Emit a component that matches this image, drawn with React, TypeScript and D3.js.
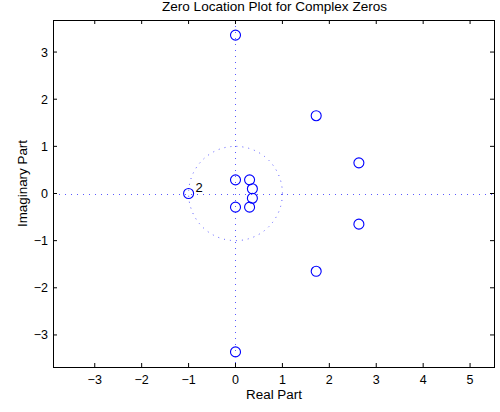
import React from "react";
import * as d3 from "d3";

const zerosRe = [0, 0, 1.72, 1.72, 2.63, 2.63, 0, 0, 0.3, 0.3, 0.36, 0.36, -1];
const zerosIm = [3.36, -3.36, 1.65, -1.65, 0.65, -0.65, 0.29, -0.29, 0.29, -0.29, 0.1, -0.1, 0];
const multLabels = [{ re: -1, im: 0, text: "2" }];
const xTicks = [-3, -2, -1, 0, 1, 2, 3, 4, 5];
const yTicks = [-3, -2, -1, 0, 1, 2, 3];
const title = "Zero Location Plot for Complex Zeros";
const xLabel = "Real Part";
const yLabel = "Imaginary Part";

const W = 500, H = 412;
const L = 53, R = 494, T = 20, B = 367;
const FONT = "Liberation Sans, Arial, Helvetica, sans-serif";

export default function App() {
  const x = d3.scaleLinear().domain([-3.89, 5.51]).range([L, R]);
  const y = d3.scaleLinear().domain([-3.68, 3.68]).range([B, T]);
  const circlePts = d3.range(0, 361, 2).map((a) => [Math.cos((a * Math.PI) / 180), Math.sin((a * Math.PI) / 180)]);
  const circlePath = d3.line<number[]>().x((d) => x(d[0])).y((d) => y(d[1]))(circlePts) || "";
  const tl = 4;
  const dot = { stroke: "#5a5aff", strokeWidth: 1, strokeDasharray: "1 5" } as const;
  const y0 = Math.round(y(0)) + 0.5;
  const x0 = Math.round(x(0)) + 0.5;
  const fmt = (t: number) => (t < 0 ? "\u2212" + Math.abs(t) : String(t));
  return (
    <svg width={W} height={H} style={{ position: "absolute", left: 0, top: 0, background: "#fff" }} fontFamily={FONT}>
      <rect x={0} y={0} width={W} height={H} fill="#fff" />
      <path d={circlePath} fill="none" {...dot} />
      <line x1={L} x2={R} y1={y0} y2={y0} {...dot} />
      <line x1={x0} x2={x0} y1={T} y2={B} {...dot} />
      {zerosRe.map((re, i) => (
        <circle key={i} cx={x(re)} cy={y(zerosIm[i])} r={5} fill="none" stroke="#0000ff" strokeWidth={1.1} />
      ))}
      {multLabels.map((m, i) => (
        <text key={i} x={x(m.re) + 7} y={y(m.im) - 1.5} fontSize={13} fill="#000">{m.text}</text>
      ))}
      <rect x={L + 0.5} y={T + 0.5} width={R - L} height={B - T} fill="none" stroke="#000" strokeWidth={1} />
      {xTicks.map((t) => (
        <g key={"x" + t}>
          <line x1={x(t)} x2={x(t)} y1={B} y2={B - tl} stroke="#000" />
          <line x1={x(t)} x2={x(t)} y1={T} y2={T + tl} stroke="#000" />
          <text x={x(t)} y={B + 17} fontSize={12.5} textAnchor="middle" fill="#000">{fmt(t)}</text>
        </g>
      ))}
      {yTicks.map((t) => (
        <g key={"y" + t}>
          <line x1={L} x2={L + tl} y1={y(t)} y2={y(t)} stroke="#000" />
          <line x1={R} x2={R - tl} y1={y(t)} y2={y(t)} stroke="#000" />
          <text x={L - 5} y={y(t) + 4.5} fontSize={12.5} textAnchor="end" fill="#000">{fmt(t)}</text>
        </g>
      ))}
      <text x={274.5} y={11} fontSize={13} textAnchor="middle" fill="#000" textLength={225} lengthAdjust="spacingAndGlyphs">{title}</text>
      <text x={274} y={399} fontSize={12.5} textAnchor="middle" fill="#000" textLength={56} lengthAdjust="spacingAndGlyphs">{xLabel}</text>
      <text transform={`translate(26.5,183.5) rotate(-90)`} fontSize={12.5} textAnchor="middle" fill="#000" textLength={87} lengthAdjust="spacingAndGlyphs">{yLabel}</text>
    </svg>
  );
}
